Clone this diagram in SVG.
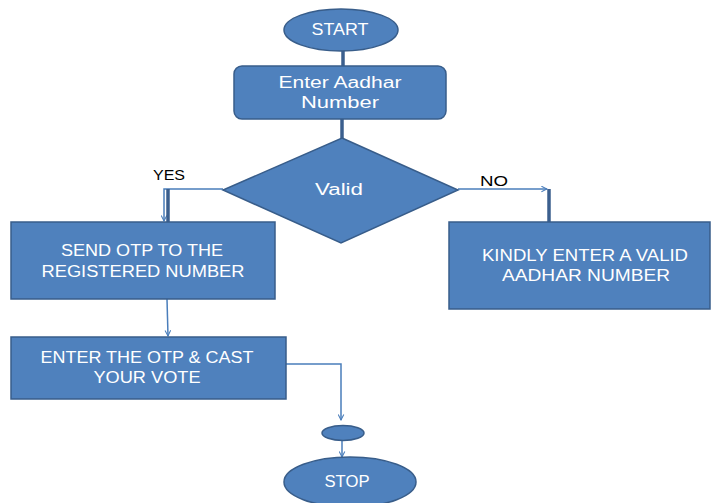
<svg xmlns="http://www.w3.org/2000/svg" width="712" height="503" viewBox="0 0 712 503">
<defs>
<marker id="arr" viewBox="0 0 10 10" refX="9" refY="5" markerWidth="7" markerHeight="7" orient="auto" markerUnits="userSpaceOnUse">
<path d="M1,1 L9,5 L1,9" fill="none" stroke="#4A7EBB" stroke-width="1.5"/>
</marker>
<style>
.n{fill:#4F81BD;stroke:#385D8A;stroke-width:1.5}
.t{fill:#FFFFFF;font-family:"Liberation Sans",Arial,sans-serif;font-size:16px;text-anchor:middle}
.l{fill:#000000;font-family:"Liberation Sans",Arial,sans-serif;font-size:14px;text-anchor:middle}
.c{fill:none;stroke:#4A7EBB;stroke-width:1.5}
.k{fill:none;stroke:#3B5F8E;stroke-width:3.5}
</style>
</defs>
<rect width="712" height="503" fill="#FFFFFF"/>
<g id="connectors">
<line class="k" x1="343" y1="51" x2="343" y2="67"/>
<line class="k" x1="342" y1="119" x2="342" y2="139"/>
<polyline class="c" points="223,189 164,189 164,221" marker-end="url(#arr)"/>
<line class="k" x1="168" y1="189" x2="168" y2="222"/>
<polyline class="c" points="458,189 547,189" marker-end="url(#arr)"/>
<line class="k" x1="549" y1="189" x2="549" y2="222"/>
<line class="c" x1="167" y1="299" x2="168" y2="336" marker-end="url(#arr)"/>
<polyline class="c" points="286,364 341,364 341,420" marker-end="url(#arr)"/>
<line class="c" x1="342" y1="441" x2="342" y2="457" marker-end="url(#arr)"/>
<text class="l" x="169" y="180" textLength="32" lengthAdjust="spacingAndGlyphs">YES</text>
<text class="l" x="494" y="186" textLength="28" lengthAdjust="spacingAndGlyphs">NO</text>
</g>
<g id="start">
<ellipse class="n" cx="341" cy="30" rx="57" ry="21"/>
<text class="t" x="340" y="35" textLength="57" lengthAdjust="spacingAndGlyphs">START</text>
</g>
<g id="enter-aadhar">
<rect class="n" x="234" y="66" width="212" height="53" rx="8"/>
<text class="t" x="340" y="88" textLength="123" lengthAdjust="spacingAndGlyphs">Enter Aadhar</text>
<text class="t" x="340" y="108" textLength="78" lengthAdjust="spacingAndGlyphs">Number</text>
</g>
<g id="valid">
<polygon class="n" points="342,138 458,190 341,243 223,190"/>
<text class="t" x="339" y="195" textLength="48" lengthAdjust="spacingAndGlyphs">Valid</text>
</g>
<g id="send-otp">
<rect class="n" x="11" y="222" width="264" height="77"/>
<text class="t" x="142" y="256" textLength="162" lengthAdjust="spacingAndGlyphs">SEND OTP TO THE</text>
<text class="t" x="143" y="277" textLength="203" lengthAdjust="spacingAndGlyphs">REGISTERED NUMBER</text>
</g>
<g id="kindly">
<rect class="n" x="449" y="222" width="261" height="87"/>
<text class="t" x="585" y="261" textLength="206" lengthAdjust="spacingAndGlyphs">KINDLY ENTER A VALID</text>
<text class="t" x="586" y="281" textLength="168" lengthAdjust="spacingAndGlyphs">AADHAR NUMBER</text>
</g>
<g id="enter-otp">
<rect class="n" x="11" y="337" width="275" height="62"/>
<text class="t" x="147" y="363" textLength="213" lengthAdjust="spacingAndGlyphs">ENTER THE OTP &amp; CAST</text>
<text class="t" x="147" y="383" textLength="107" lengthAdjust="spacingAndGlyphs">YOUR VOTE</text>
</g>
<g id="connector-dot">
<ellipse class="n" cx="343" cy="433" rx="21" ry="7.5"/>
</g>
<g id="stop">
<ellipse class="n" cx="350" cy="482" rx="66" ry="25"/>
<text class="t" x="347" y="487" textLength="45" lengthAdjust="spacingAndGlyphs">STOP</text>
</g>
</svg>
